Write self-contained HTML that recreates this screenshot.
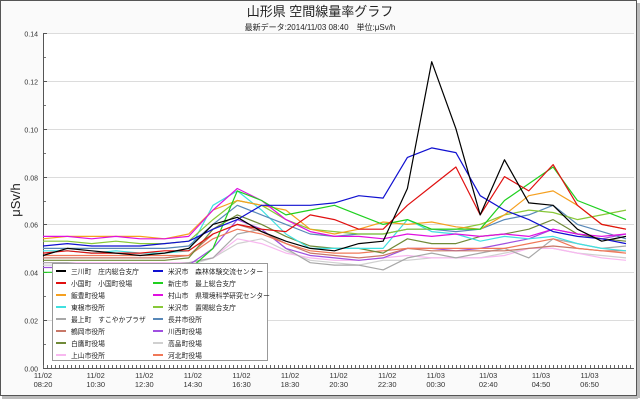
<!DOCTYPE html>
<html><head><meta charset="utf-8">
<style>
html,body{margin:0;padding:0;background:#fff;}
svg{display:block;font-family:"Liberation Sans","Noto Sans CJK JP",sans-serif;}
</style></head>
<body>
<svg id="chart" width="640" height="400" viewBox="0 0 640 400">
  <rect x="0.5" y="0.5" width="636" height="395" fill="#fafafa" stroke="#555"/>
  <line x1="2" y1="397.5" x2="638" y2="397.5" stroke="#bbb" stroke-width="3"/>
  <line x1="638.5" y1="3" x2="638.5" y2="398" stroke="#bbb" stroke-width="3"/>
  <text x="320" y="16" font-size="13" text-anchor="middle" fill="#222">山形県 空間線量率グラフ</text>
  <text x="320" y="30" font-size="8" text-anchor="middle" fill="#222">最新データ:2014/11/03 08:40　単位:μSv/h</text>
  <text transform="translate(20,200) rotate(-90)" font-size="13" text-anchor="middle" fill="#222">μSv/h</text>
  <rect x="43" y="33" width="591" height="335" fill="#fff"/>
  <g id="grid"></g><g id="axes"></g><g id="series"></g><g id="legend"></g>
</svg>
<script>
const tickValues=[0,0.02,0.04,0.06,0.08,0.10,0.12,0.14];
const tickLabels=["0.00","0.02","0.04","0.06","0.08","0.10","0.12","0.14"];
const xLabelsDate=["11/02","11/02","11/02","11/02","11/02","11/02","11/02","11/02","11/03","11/03","11/03","11/03"];
const xLabelsTime=["08:20","10:30","12:30","14:30","16:30","18:30","20:30","22:30","00:30","02:40","04:50","06:50"];
const xLabelHours=[0,2.17,4.17,6.17,8.17,10.17,12.17,14.17,16.17,18.33,20.5,22.5];
const legendNames=["三川町　庄内総合支庁","小国町　小国町役場","飯豊町役場","東根市役所","最上町　すこやかプラザ","鶴岡市役所","白鷹町役場","上山市役所","米沢市　森林体験交流センター","新庄市　最上総合支庁","村山市　県環境科学研究センター","米沢市　置賜総合支庁","長井市役所","川西町役場","高畠町役場","河北町役場"];
const seriesColors=["#000","#e01010","#f5a020","#40e0e0","#a8a8a8","#c87868","#708a38","#f8b8f0","#1010d0","#20d020","#e010e0","#88c838","#5888b8","#a050e0","#d0d0d0","#f07858"];
const s0=[.047,.050,.049,.048,.047,.048,.050,.060,.063,.057,.053,.050,.049,.052,.053,.075,.128,.100,.064,.087,.069,.068,.058,.053,.055];
const s1=[.048,.049,.048,.048,.048,.049,.049,.056,.060,.058,.057,.064,.062,.058,.058,.068,.076,.084,.064,.080,.074,.085,.068,.060,.058];
const s2=[.054,.055,.055,.055,.055,.054,.056,.066,.070,.068,.066,.058,.056,.058,.061,.060,.061,.059,.058,.064,.072,.074,.068,.060,.058];
const s3=[.049,.049,.048,.049,.048,.048,.049,.068,.074,.066,.056,.050,.050,.050,.050,.062,.057,.056,.053,.055,.054,.055,.052,.050,.049];
const s4=[.044,.044,.043,.043,.043,.043,.044,.046,.056,.058,.050,.044,.043,.043,.041,.046,.048,.046,.048,.050,.046,.054,.052,.050,.051];
const s5=[.046,.046,.046,.046,.046,.046,.047,.056,.060,.057,.052,.048,.047,.046,.047,.050,.049,.049,.049,.049,.050,.051,.050,.049,.049];
const s6=[.045,.045,.045,.045,.045,.045,.046,.058,.064,.060,.055,.051,.050,.050,.048,.054,.052,.052,.055,.056,.058,.062,.056,.054,.053];
const s7=[.044,.044,.044,.044,.044,.044,.044,.046,.054,.052,.048,.046,.045,.045,.046,.047,.046,.046,.046,.047,.050,.050,.048,.046,.045];
const s8=[.051,.052,.051,.051,.051,.052,.053,.058,.062,.068,.068,.068,.069,.072,.071,.088,.092,.090,.072,.066,.062,.057,.055,.054,.052];
const s9=[.040,.040,.039,.040,.040,.040,.041,.050,.074,.070,.064,.066,.068,.064,.060,.062,.058,.058,.058,.070,.077,.084,.070,.066,.062];
const s10=[.055,.055,.054,.055,.054,.054,.055,.066,.075,.070,.062,.057,.055,.055,.054,.056,.055,.056,.055,.056,.055,.058,.056,.055,.056];
const s11=[.053,.053,.052,.053,.052,.052,.053,.062,.070,.068,.062,.058,.057,.056,.056,.058,.058,.058,.060,.064,.066,.065,.062,.064,.066];
const s12=[.050,.050,.050,.050,.050,.050,.051,.060,.068,.064,.060,.056,.055,.056,.056,.058,.058,.057,.058,.062,.064,.068,.060,.057,.054];
const s13=[.042,.042,.042,.042,.042,.042,.043,.050,.062,.058,.050,.047,.046,.045,.046,.050,.050,.049,.050,.052,.054,.058,.056,.054,.056];
const s14=[.043,.043,.043,.043,.043,.043,.043,.046,.052,.054,.049,.045,.044,.043,.045,.045,.046,.046,.046,.048,.050,.050,.048,.047,.046];
const s15=[.047,.047,.047,.047,.047,.047,.047,.054,.058,.056,.052,.049,.048,.048,.049,.050,.050,.050,.050,.050,.052,.054,.050,.049,.048];
const allSeries=[s0,s1,s2,s3,s4,s5,s6,s7,s8,s9,s10,s11,s12,s13,s14,s15];

const NS="http://www.w3.org/2000/svg";
const X0=43,X1=634,Y0=368,Y1=33,HMAX=24.33,VMAX=0.14;
function xs(h){return X0+h/HMAX*(X1-X0);}
function ys(v){return Y0-v/VMAX*(Y0-Y1);}
function mk(tag,attrs,parent){const e=document.createElementNS(NS,tag);for(const k in attrs)e.setAttribute(k,attrs[k]);parent.appendChild(e);return e;}
const grid=document.getElementById('grid'),axes=document.getElementById('axes'),ser=document.getElementById('series'),leg=document.getElementById('legend');

tickValues.forEach((v,i)=>{
  const y=Math.round(ys(v))+0.5;
  if(v>0){const g=mk('line',{x1:X0,x2:X1,y1:y,y2:y,stroke:'#dcdcdc'},grid);
    
    }
  const t=mk('text',{x:38,y:y+3,'font-size':7,'text-anchor':'end',fill:'#333'},axes);
  t.textContent=tickLabels[i];
  
  
  mk('line',{x1:X0,x2:X0+4,y1:y,y2:y,stroke:'#555'},axes);
  if(i<tickValues.length-1){const ym=Math.round(ys(v+0.01))+0.5;mk('line',{x1:X0,x2:X0+3,y1:ym,y2:ym,stroke:'#777'},axes);}
});
const ax=mk('path',{d:`M${X0+0.5},${Y1}V${Y0+0.5}H${X1}`,fill:'none',stroke:'#555'},axes);


for(let m=0;m<=HMAX*60;m+=10){const x=Math.round(xs(m/60))+0.5;mk('line',{x1:x,x2:x,y1:Y0,y2:Y0-3,stroke:'#666'},axes);}
xLabelHours.forEach((h,i)=>{
  const x=xs(h);
  const t1=mk('text',{x:x,y:378,'font-size':7.5,'text-anchor':'middle',fill:'#333'},axes);
  t1.textContent=xLabelsDate[i];
  
  
  const t2=mk('text',{x:x,y:387,'font-size':7.5,'text-anchor':'middle',fill:'#333'},axes);
  t2.textContent=xLabelsTime[i];
  
  
});
const order=[14,7,4,13,5,15,6,3,12,11,2,10,9,1,8,0];
order.forEach(k=>{
  const d=allSeries[k].map((v,i)=>(i?'L':'M')+xs(i).toFixed(1)+','+ys(v).toFixed(1)).join('');
  const p=mk('path',{d:d,fill:'none',stroke:seriesColors[k],'stroke-width':1.2,'stroke-linejoin':'round'},ser);
  
  
});
const lb=mk('rect',{x:52.5,y:263.5,width:215,height:97,fill:'#fff',stroke:'#999'},leg);


legendNames.forEach((n,k)=>{
  const col=k<8?0:1,row=k%8;
  const lx=col?153:56,y=271+row*12;
  mk('line',{x1:lx,x2:lx+10,y1:y,y2:y,stroke:seriesColors[k],'stroke-width':2},leg);
  const t=mk('text',{x:lx+15,y:y+3,'font-size':6.8,fill:'#222'},leg);
  t.textContent=n;
  
  
});
</script>
</body></html>
